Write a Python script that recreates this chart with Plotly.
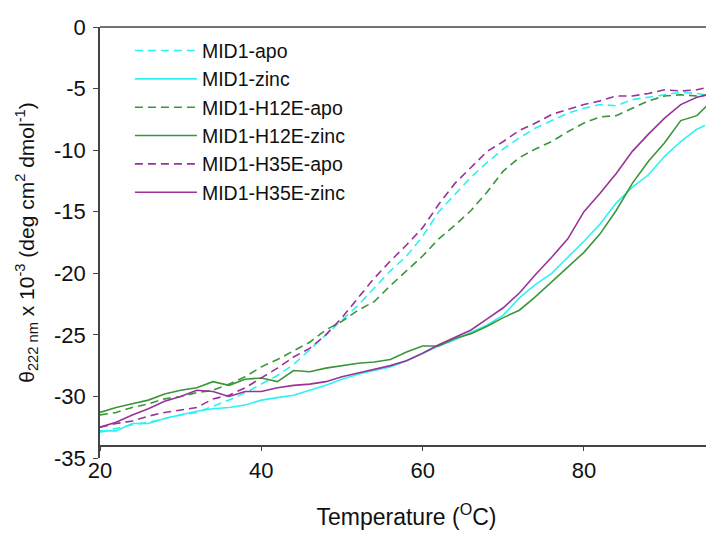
import plotly.graph_objects as go

temps = [20, 22, 24, 26, 28, 30, 32, 34, 36, 38, 40, 42, 44, 46, 48, 50, 52, 54, 56, 58,
         60, 62, 64, 66, 68, 70, 72, 74, 76, 78, 80, 82, 84, 86, 88, 90, 92, 94, 96]
temps_mid1_zinc = temps[:-1] + [95]

mid1_apo = [-32.9, -32.6, -32.3, -32.1, -31.8, -31.5, -31.3, -30.8, -30.3, -29.7,
            -29.0, -28.3, -27.4, -26.2, -25.0, -23.8, -22.6, -21.2, -19.8, -18.6,
            -17.0, -15.0, -13.6, -12.2, -11.0, -9.9, -9.0, -8.2, -7.6, -7.0,
            -6.6, -6.3, -6.4, -5.9, -5.7, -5.5, -5.3, -5.4, -5.6]
mid1_zinc = [-32.8, -32.8, -32.2, -32.2, -31.8, -31.5, -31.2, -31.0, -30.9, -30.7,
             -30.3, -30.1, -29.9, -29.5, -29.1, -28.6, -28.2, -27.9, -27.6, -27.1,
             -26.5, -25.9, -25.4, -24.8, -24.2, -23.4, -22.0, -20.9, -20.0, -18.7,
             -17.4, -16.0, -14.3, -13.0, -12.0, -10.5, -9.3, -8.3, -8.0]
h12e_apo = [-31.5, -31.3, -30.9, -30.6, -30.2, -30.0, -29.7, -29.5, -29.0, -28.4,
            -27.6, -27.0, -26.3, -25.6, -24.6, -23.9, -23.0, -22.3, -21.0, -19.8,
            -18.6, -17.2, -16.1, -14.9, -13.4, -11.7, -10.6, -9.9, -9.3, -8.5,
            -7.8, -7.3, -7.2, -6.6, -6.0, -5.6, -5.5, -5.6, -5.5]
h12e_zinc = [-31.3, -30.9, -30.6, -30.3, -29.8, -29.5, -29.3, -28.8, -29.1, -28.6,
             -28.5, -28.8, -27.9, -28.0, -27.7, -27.5, -27.3, -27.2, -27.0, -26.4,
             -25.9, -25.9, -25.3, -24.9, -24.3, -23.6, -23.0, -21.9, -20.7, -19.5,
             -18.3, -16.8, -14.9, -12.7, -10.9, -9.4, -7.6, -7.2, -5.9]
h35e_apo = [-32.5, -32.2, -32.0, -31.6, -31.3, -31.1, -30.9, -30.2, -29.9, -29.3,
            -28.5, -27.7, -26.8, -26.1, -25.0, -23.6, -22.0, -20.4, -19.0, -17.7,
            -16.3, -14.4, -12.7, -11.4, -10.1, -9.3, -8.4, -7.8, -7.1, -6.7,
            -6.3, -6.0, -5.6, -5.6, -5.4, -5.1, -5.2, -5.1, -4.8]
h35e_zinc = [-32.5, -32.1, -31.5, -31.0, -30.4, -30.0, -29.5, -29.6, -30.0, -29.6,
             -29.6, -29.3, -29.1, -29.0, -28.8, -28.4, -28.1, -27.8, -27.5, -27.1,
             -26.5, -25.8, -25.2, -24.6, -23.7, -22.8, -21.6, -20.1, -18.7, -17.2,
             -15.0, -13.5, -11.9, -10.1, -8.7, -7.4, -6.3, -5.7, -5.4]

y_tickvals = [0, -5, -10, -15, -20, -25, -30, -35]
y_ticktext = ["0", "-5", "-10", "-15", "-20", "-25", "-30", "-35"]
x_tickvals = [20, 40, 60, 80]

CYAN = "#2DF2F2"
GREEN = "#3A963A"
PURPLE = "#993399"
DASH = "8px,5px"

series = [
    ("MID1-apo", temps, mid1_apo, CYAN, DASH),
    ("MID1-zinc", temps_mid1_zinc, mid1_zinc, CYAN, "solid"),
    ("MID1-H12E-apo", temps, h12e_apo, GREEN, DASH),
    ("MID1-H12E-zinc", temps, h12e_zinc, GREEN, "solid"),
    ("MID1-H35E-apo", temps, h35e_apo, PURPLE, DASH),
    ("MID1-H35E-zinc", temps, h35e_zinc, PURPLE, "solid"),
]

fig = go.Figure()
for name, xs, ys, color, dash in series:
    fig.add_trace(go.Scatter(x=xs, y=ys, mode="lines", name=name,
                             line=dict(color=color, width=1.6, dash=dash)))

FONT = "Liberation Sans, Arial, sans-serif"
AXIS_COLOR = "#444444"

fig.update_layout(
    width=714, height=535,
    margin=dict(l=92, r=7, t=15, b=85),
    paper_bgcolor="white", plot_bgcolor="white",
    font=dict(family=FONT, size=21, color="#111111"),
    showlegend=True,
    legend=dict(x=0.0488, y=0.99, xanchor="left", yanchor="top",
                bgcolor="rgba(0,0,0,0)", font=dict(size=19.5, family=FONT, color="#111111"),
                itemwidth=62, tracegroupgap=0),
    xaxis=dict(range=[20, 96], tickvals=x_tickvals, ticks="outside", ticklen=5,
               tickcolor=AXIS_COLOR, showline=True, linecolor=AXIS_COLOR, linewidth=1.5,
               showgrid=False, zeroline=False, anchor="free", position=1/35,
               tickfont=dict(size=22),
               title=dict(text="Temperature (<sup>O</sup>C)", font=dict(size=23), standoff=26)),
    yaxis=dict(range=[-35, 0], tickvals=y_tickvals, ticktext=y_ticktext, ticks="outside",
               ticklen=5, tickcolor=AXIS_COLOR, ticklabelstandoff=3,
               showline=True, linecolor=AXIS_COLOR, linewidth=1.5, mirror=True,
               showgrid=False, zeroline=False, tickfont=dict(size=22),
               title=dict(text="θ<sub>222 nm</sub> x 10<sup>-3</sup> (deg cm<sup>2</sup> dmol<sup>-1</sup>)",
                          font=dict(size=21), standoff=14)),
    shapes=[dict(type="line", xref="paper", yref="paper", x0=0, x1=1, y0=1, y1=1,
                 line=dict(color=AXIS_COLOR, width=1.5))],
)

fig.write_html("out.html")
